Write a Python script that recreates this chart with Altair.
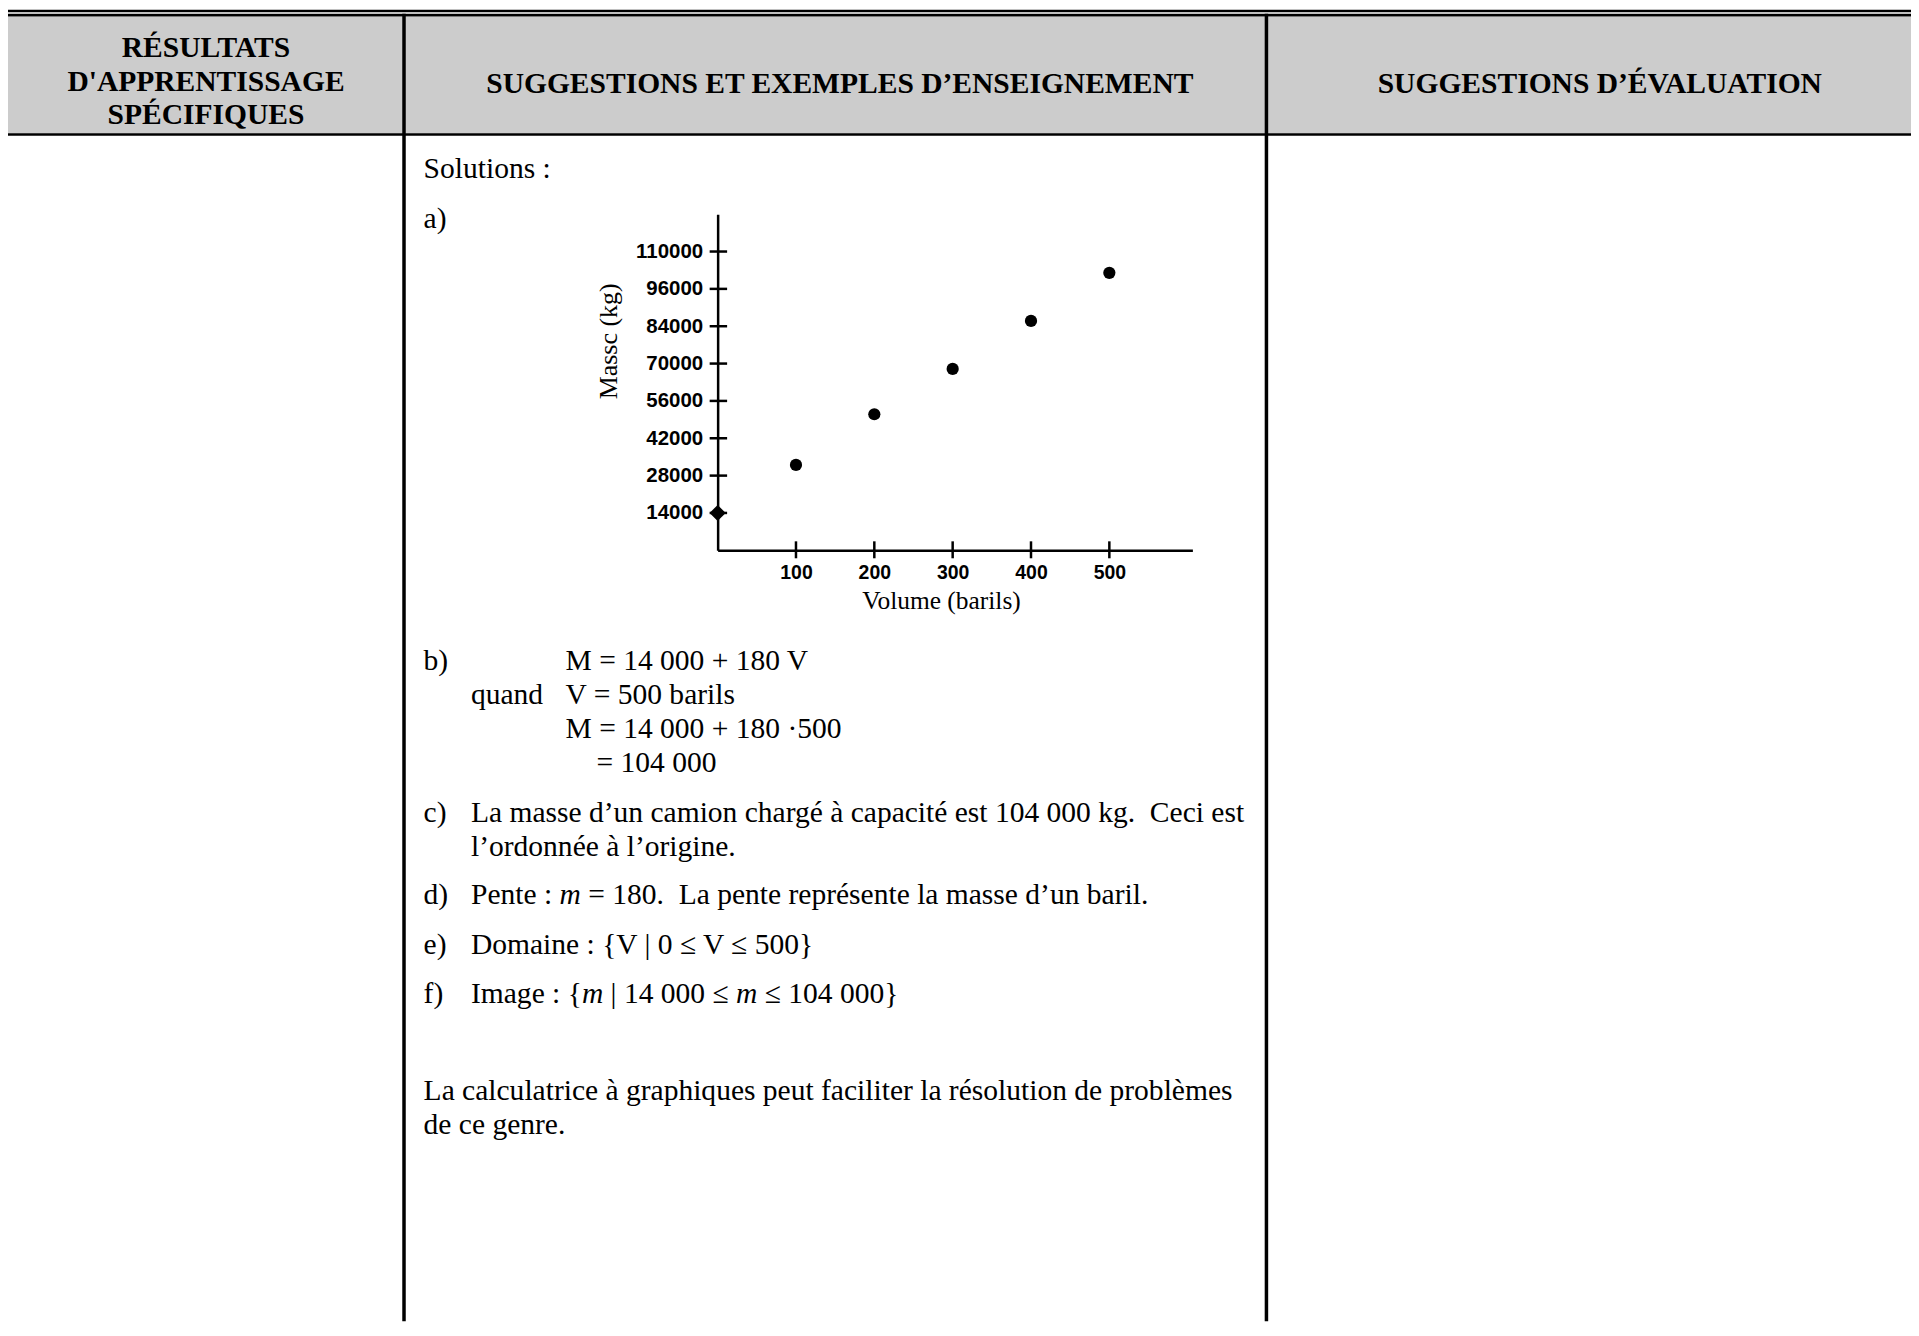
import altair as alt
import pandas as pd

# ---------------- data ----------------
volume = [0, 100, 200, 300, 400, 500]
masse = [14000, 32000, 51000, 68000, 86000, 104000]
point_shape = ["diamond", "circle", "circle", "circle", "circle", "circle"]
x_ticks = [100, 200, 300, 400, 500]
y_ticks = [14000, 28000, 42000, 56000, 70000, 84000, 98000, 112000]
y_tick_labels = ["14000", "28000", "42000", "56000", "70000", "84000", "96000", "110000"]
x_title = "Volume (barils)"
y_title = "Massc (kg)"

header_col1 = ["RÉSULTATS", "D'APPRENTISSAGE", "SPÉCIFIQUES"]
header_col2 = "SUGGESTIONS ET EXEMPLES D’ENSEIGNEMENT"
header_col3 = "SUGGESTIONS D’ÉVALUATION"

txt_solutions = "Solutions :"
item_labels = ["a)", "b)", "c)", "d)", "e)", "f)"]
b_lines = ["M = 14 000 + 180 V", "quand", "V = 500 barils", "M = 14 000 + 180 ·500", "= 104 000"]
c_lines = ["La masse d’un camion chargé à capacité est 104 000 kg.  Ceci est", "l’ordonnée à l’origine."]
d_parts = [("Pente : ", False), ("m", True), (" = 180.  La pente représente la masse d’un baril.", False)]
e_line = "Domaine : {V | 0 ≤ V ≤ 500}"
f_parts = [("Image : {", False), ("m", True), (" | 14 000 ≤ ", False), ("m", True), (" ≤ 104 000}", False)]
closing_lines = ["La calculatrice à graphiques peut faciliter la résolution de problèmes", "de ce genre."]

# ---------------- layout (page pixels) ----------------
ORG = 8
OX, OY = 719.5, 213.0
W, H = 476, 337
TOTAL_W, TOTAL_H = 1908, 1315
RIGHT = ORG + TOTAL_W
BOTTOM = ORG + TOTAL_H
FS = 29.6
SERIF = "Liberation Serif, Times New Roman, serif"
SANS = "Liberation Sans, Arial, sans-serif"

one = pd.DataFrame({"k": [0]})

TIMES = {" ": 250, "(": 333, ")": 333, "+": 564, ".": 250, ":": 278, "=": 564, "{": 480, "|": 200,
         "}": 480, "≤": 549, "·": 250, "’": 333, "I": 333, "V": 722, "P": 556, "L": 611,
         "a": 444, "b": 500, "c": 444, "d": 500, "e": 444, "g": 500, "i": 278, "l": 278, "m": 778,
         "n": 500, "o": 500, "p": 500, "r": 333, "s": 389, "t": 278, "u": 500, "é": 444}
for dgt in "0123456789":
    TIMES[dgt] = 500


def tw(s, italic=False):
    if italic:
        return sum(722 if ch == "m" else TIMES.get(ch, 500) for ch in s) * FS / 1000
    return sum(TIMES.get(ch, 500) for ch in s) * FS / 1000


def box(x1, x2, y1, y2, color="black"):
    return alt.Chart(one).mark_rect(color=color).encode(
        x=alt.value(x1 - OX), x2=alt.value(x2 - OX),
        y=alt.value(y1 - OY), y2=alt.value(y2 - OY))


def txt(s, x, y, bold=False, italic=False, align="left", size=FS):
    s = s.replace("  ", " \u00a0")
    return alt.Chart(one).mark_text(
        text=s, align=align, baseline="middle", font=SERIF, fontSize=size,
        fontWeight="bold" if bold else "normal",
        fontStyle="italic" if italic else "normal", color="black").encode(
        x=alt.value(x - OX), y=alt.value(y - OY))


def segs(parts, x, y):
    out = []
    for s, it in parts:
        core = s.lstrip(" ")
        x += (len(s) - len(core)) * tw(" ")
        out.append(txt(core.rstrip(" "), x, y, italic=it))
        x += tw(core, it)
    return out


layers = []
# header band and table rules
layers.append(box(ORG, RIGHT, 15, 132, "#cccccc"))
layers.append(box(ORG, RIGHT, 8, 10.5))
layers.append(box(ORG, RIGHT, 12, 14.8))
layers.append(box(ORG, RIGHT, 131.8, 134.4))
layers.append(box(403.3, 406.8, 12, BOTTOM))
layers.append(box(1268, 1271.5, 12, BOTTOM))

# header texts
for s, y in zip(header_col1, [46.5, 80.8, 113.8]):
    layers.append(txt(s, 206.5, y, bold=True, align="center"))
layers.append(txt(header_col2, 842, 82, bold=True, align="center"))
layers.append(txt(header_col3, 1604, 82, bold=True, align="center"))

# body texts
XL, XT = 424.7, 472.2
layers.append(txt(txt_solutions, XL, 167.7))
layers.append(txt(item_labels[0], XL, 217.9))
layers.append(txt(item_labels[1], XL, 661))
layers.append(txt(b_lines[0], 567, 661))
layers.append(txt(b_lines[1], XT, 695))
layers.append(txt(b_lines[2], 567, 695))
layers.append(txt(b_lines[3], 567, 729))
layers.append(txt(b_lines[4], 598, 763))
layers.append(txt(item_labels[2], XL, 813))
layers.append(txt(c_lines[0], XT, 813))
layers.append(txt(c_lines[1], XT, 847))
layers.append(txt(item_labels[3], XL, 896))
layers += segs(d_parts, XT, 896)
layers.append(txt(item_labels[4], XL, 946))
layers.append(txt(e_line, XT, 946))
layers.append(txt(item_labels[5], XL, 995))
layers += segs(f_parts, XT, 995)
layers.append(txt(closing_lines[0], XL, 1091.7))
layers.append(txt(closing_lines[1], XL, 1126))

# ---------------- scatter ----------------
xs = alt.Scale(domain=[0, 606], nice=False, zero=False)
ys = alt.Scale(domain=[0, 126000], nice=False, zero=False)

label_expr = " : ".join(f"datum.value == {v} ? '{l}'" for v, l in zip(y_ticks, y_tick_labels)) + " : datum.label"

x_axis = alt.Axis(
    values=x_ticks, title=x_title, grid=False, ticks=False, tickSize=0,
    domainColor="black", domainWidth=2.5, labelColor="black",
    labelFont=SANS, labelFontSize=19.5, labelFontWeight="bold",
    labelPadding=13, titleFont=SERIF, titleFontSize=25.5, titleFontWeight="normal",
    titleColor="black", titlePadding=7, titleX=224)
y_axis = alt.Axis(
    values=y_ticks, labelExpr=label_expr, title=y_title, grid=False, ticks=False, tickSize=0,
    domainColor="black", domainWidth=2.5, labelColor="black",
    labelFont=SANS, labelFontSize=20.5, labelFontWeight="bold",
    labelPadding=15, titleFont=SERIF, titleFontSize=26, titleFontWeight="normal",
    titleColor="black", titlePadding=14, titleY=127)

pts = pd.DataFrame({"V": volume, "M": masse, "forme": point_shape})
points = alt.Chart(pts).mark_point(filled=True, color="black", opacity=1).encode(
    x=alt.X("V:Q", scale=xs, axis=x_axis),
    y=alt.Y("M:Q", scale=ys, axis=y_axis),
    shape=alt.Shape("forme:N", scale=None),
    size=alt.Size("forme:N", scale=alt.Scale(domain=["diamond", "circle"], range=[260, 150]), legend=None),
)

ytick_marks = alt.Chart(pd.DataFrame({"M": y_ticks})).mark_rule(color="black", strokeWidth=2.5).encode(
    y=alt.Y("M:Q", scale=ys, axis=y_axis), x=alt.value(-8), x2=alt.value(9.5))
xtick_marks = alt.Chart(pd.DataFrame({"V": x_ticks})).mark_rule(color="black", strokeWidth=2.5).encode(
    x=alt.X("V:Q", scale=xs, axis=x_axis), y=alt.value(H - 9), y2=alt.value(H + 8))

layers += [points, ytick_marks, xtick_marks]

chart = alt.layer(*layers).properties(
    width=W, height=H,
    padding={"left": OX - ORG, "top": OY - ORG,
             "right": TOTAL_W - (OX - ORG) - W, "bottom": TOTAL_H - (OY - ORG) - H},
    autosize=alt.AutoSizeParams(type="none"),
).configure_view(strokeWidth=0)

chart.save("out.html", embed_options={"renderer": "svg", "actions": False})
